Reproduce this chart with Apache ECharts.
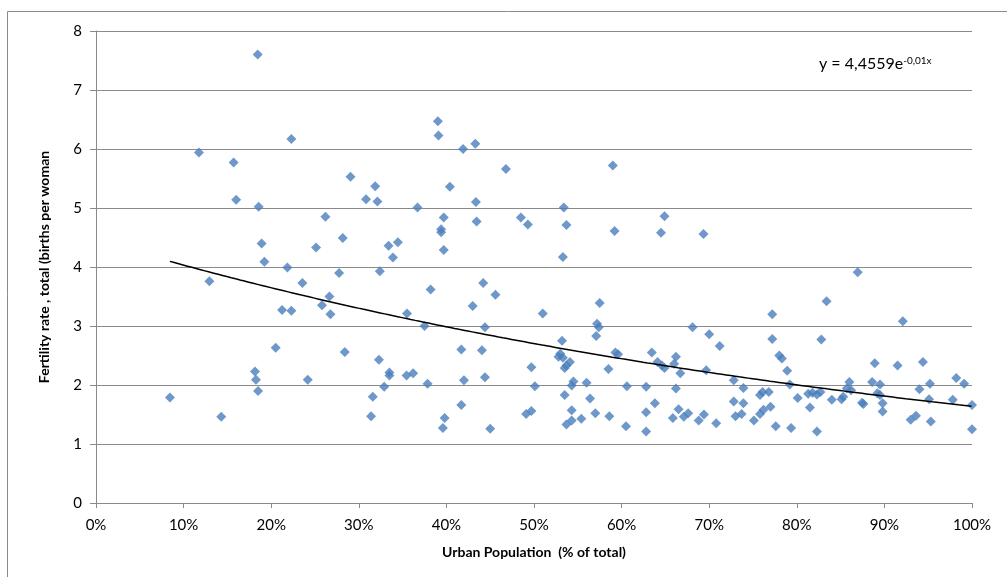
<!DOCTYPE html>
<html>
<head>
<meta charset="utf-8">
<script src="https://cdn.jsdelivr.net/npm/echarts@6/dist/echarts.min.js"></script>
<style>
  html, body { margin: 0; padding: 0; background: #ffffff; }
  #chart { width: 1007px; height: 577px; }
</style>
</head>
<body>
<div id="chart"></div>
<script>
// Urban population (% of total) per country
const urbanPct = [
  8.44, 11.75, 12.94, 14.3, 15.71, 16.0, 18.15, 18.26, 18.46, 18.5,
  18.57, 18.91, 19.22, 20.51, 21.24, 21.85, 22.3, 22.3, 23.56, 24.17,
  25.12, 25.8, 26.19, 26.65, 26.76, 27.75, 28.17, 28.4, 29.05, 30.83,
  31.4, 31.6, 31.87, 32.13, 32.3, 32.4, 32.9, 33.4, 33.5, 33.5,
  33.9, 34.46, 35.45, 35.5, 36.2, 36.7, 37.5, 37.85, 38.2, 39.03,
  39.1, 39.4, 39.4, 39.6, 39.7, 39.7, 39.8, 40.4, 41.7, 41.7,
  41.9, 42.0, 43.0, 43.3, 43.37, 43.45, 44.06, 44.2, 44.4, 44.4,
  45.0, 45.6, 46.8, 48.5, 49.1, 49.3, 49.7, 49.7, 50.1, 51.0,
  52.8, 53.0, 53.2, 53.3, 53.3, 53.4, 53.5, 53.5, 53.7, 53.7,
  53.7, 54.1, 54.3, 54.3, 54.3, 54.5, 55.4, 56.0, 56.4, 57.0,
  57.1, 57.2, 57.4, 57.5, 58.5, 58.6, 59.0, 59.2, 59.3, 59.6,
  60.5, 60.6, 62.8, 62.8, 62.8, 63.45, 63.8, 64.1, 64.5, 64.6,
  64.9, 64.9, 65.85, 66.0, 66.2, 66.2, 66.5, 66.7, 67.1, 67.6,
  68.1, 68.8, 69.35, 69.4, 69.66, 70.0, 70.8, 71.2, 72.8, 72.8,
  73.0, 73.7, 73.9, 73.9, 75.1, 75.8, 75.8, 76.1, 76.2, 76.8,
  77.0, 77.2, 77.2, 77.6, 78.0, 78.3, 78.9, 79.2, 79.35, 80.1,
  81.3, 81.5, 81.8, 82.3, 82.3, 82.7, 82.8, 83.4, 84.0, 85.1,
  85.3, 85.7, 86.0, 86.2, 86.95, 87.45, 87.6, 88.6, 88.9, 89.2,
  89.5, 89.5, 89.8, 89.8, 91.5, 92.1, 93.0, 93.6, 94.0, 94.4,
  95.2, 95.1, 95.3, 97.8, 98.2, 99.1, 100, 100
];

// Total fertility rate (births per woman), same order as urbanPct
const fertilityRate = [
  1.79, 5.94, 3.76, 1.46, 5.77, 5.14, 2.23, 2.09, 7.60, 1.90,
  5.02, 4.40, 4.09, 2.63, 3.27, 3.99, 6.17, 3.26, 3.73, 2.09,
  4.33, 3.35, 4.85, 3.50, 3.20, 3.90, 4.49, 2.56, 5.53, 5.15,
  1.47, 1.80, 5.37, 5.11, 2.43, 3.93, 1.97, 4.36, 2.21, 2.16,
  4.16, 4.42, 2.16, 3.21, 2.20, 5.01, 3.00, 2.02, 3.62, 6.47,
  6.23, 4.64, 4.59, 1.27, 4.84, 4.29, 1.44, 5.36, 2.60, 1.66,
  6.00, 2.08, 3.34, 6.09, 5.10, 4.77, 2.59, 3.73, 2.98, 2.13,
  1.26, 3.53, 5.66, 4.84, 1.51, 4.72, 2.30, 1.56, 1.98, 3.21,
  2.48, 2.53, 2.75, 4.17, 2.46, 5.01, 2.29, 1.83, 4.71, 2.33,
  1.33, 2.39, 1.99, 1.57, 1.40, 2.06, 1.43, 2.04, 1.77, 1.52,
  2.83, 3.04, 2.98, 3.39, 2.27, 1.47, 5.72, 4.61, 2.55, 2.52,
  1.30, 1.98, 1.97, 1.54, 1.21, 2.55, 1.69, 2.39, 4.58, 2.33,
  4.86, 2.29, 1.44, 2.36, 2.48, 1.94, 1.59, 2.20, 1.46, 1.52,
  2.98, 1.40, 4.56, 1.50, 2.25, 2.86, 1.35, 2.66, 2.08, 1.72,
  1.47, 1.51, 1.95, 1.69, 1.40, 1.51, 1.83, 1.88, 1.58, 1.88,
  1.63, 3.20, 2.78, 1.30, 2.50, 2.45, 2.24, 2.01, 1.27, 1.78,
  1.85, 1.62, 1.87, 1.84, 1.21, 1.88, 2.77, 3.42, 1.75, 1.76,
  1.80, 1.94, 2.05, 1.91, 3.91, 1.70, 1.68, 2.05, 2.37, 1.86,
  2.01, 1.83, 1.69, 1.55, 2.33, 3.08, 1.41, 1.48, 1.93, 2.39,
  2.02, 1.76, 1.38, 1.75, 2.12, 2.02, 1.66, 1.25
];

// Axis tick values
const xTicks = [0, 10, 20, 30, 40, 50, 60, 70, 80, 90, 100];
const yTicks = [0, 1, 2, 3, 4, 5, 6, 7, 8];

// Exponential trendline coefficients: y = a * e^(b x)
const trendA = 4.4559;
const trendB = -0.01;

const points = urbanPct.map((x, i) => [x, fertilityRate[i]]);

const xMinData = Math.min.apply(null, urbanPct);
const xMaxData = Math.max.apply(null, urbanPct);
const trend = [];
for (let x = xMinData; x < xMaxData; x += 0.5) {
  trend.push([x, trendA * Math.exp(trendB * x)]);
}
trend.push([xMaxData, trendA * Math.exp(trendB * xMaxData)]);

const FONT = 'Lato, "Open Sans", "Liberation Sans", sans-serif';
const AXIS_GRAY = '#8a8a8a';

const chart = echarts.init(document.getElementById('chart'), null, { renderer: 'canvas' });

chart.setOption({
  animation: false,
  backgroundColor: '#ffffff',
  textStyle: { fontFamily: FONT },
  grid: { left: 96, top: 31, right: 35, bottom: 74, containLabel: false },
  xAxis: {
    type: 'value',
    min: xTicks[0],
    max: xTicks[xTicks.length - 1],
    interval: xTicks[1] - xTicks[0],
    name: 'Urban Population  (% of total)',
    nameLocation: 'middle',
    nameGap: 42,
    nameTextStyle: { fontFamily: FONT, fontSize: 14, fontWeight: 'bold', color: '#000' },
    axisLine: { show: true, onZero: false, lineStyle: { color: AXIS_GRAY, width: 1 } },
    axisTick: { show: true, inside: false, length: 5, lineStyle: { color: AXIS_GRAY } },
    axisLabel: { margin: 15, fontFamily: FONT, fontSize: 15, color: '#000', formatter: '{value}%' },
    splitLine: { show: false }
  },
  yAxis: {
    type: 'value',
    min: yTicks[0],
    max: yTicks[yTicks.length - 1],
    interval: yTicks[1] - yTicks[0],
    name: 'Fertility rate , total (births per woman',
    nameLocation: 'middle',
    nameGap: 45,
    nameRotate: 90,
    nameTextStyle: { fontFamily: FONT, fontSize: 14, fontWeight: 'bold', color: '#000' },
    axisLine: { show: true, lineStyle: { color: AXIS_GRAY, width: 1 } },
    axisTick: { show: true, inside: false, length: 6, lineStyle: { color: AXIS_GRAY } },
    axisLabel: { margin: 14, fontFamily: FONT, fontSize: 15, color: '#000' },
    splitLine: { show: true, lineStyle: { color: AXIS_GRAY, width: 1 } }
  },
  graphic: [
    {
      type: 'rect',
      silent: true,
      shape: { x: 7.5, y: 11.5, width: 1100, height: 700 },
      style: { fill: 'none', stroke: AXIS_GRAY, lineWidth: 1 }
    },
    {
      type: 'text',
      left: 819,
      top: 56,
      silent: true,
      style: {
        text: '{m|y = 4,4559e}{s|-0,01x}',
        rich: {
          m: { fontFamily: FONT, fontSize: 16, fill: '#000', verticalAlign: 'bottom' },
          s: { fontFamily: FONT, fontSize: 10, fill: '#000', verticalAlign: 'top' }
        }
      }
    }
  ],
  series: [
    {
      type: 'scatter',
      name: 'Fertility',
      data: points,
      symbol: 'diamond',
      symbolSize: 10,
      itemStyle: { color: '#4a7ebb' },
      z: 2
    },
    {
      type: 'line',
      name: 'Trend',
      data: trend,
      showSymbol: false,
      smooth: false,
      lineStyle: { color: '#000000', width: 1.5 },
      z: 3
    }
  ]
});
</script>
</body>
</html>
